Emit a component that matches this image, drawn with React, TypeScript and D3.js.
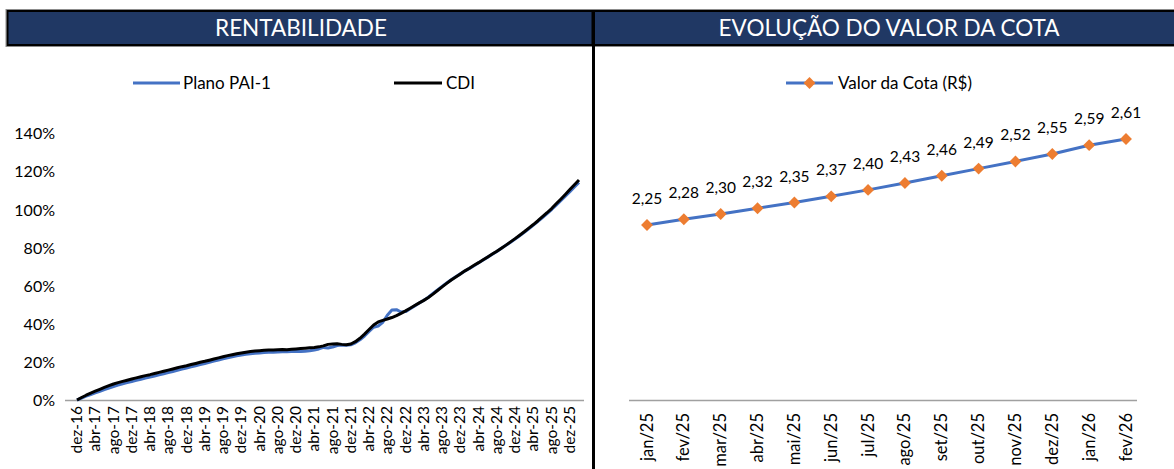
import React from "react";
import * as d3 from "d3";

const MONTHS_PT = ["jan", "fev", "mar", "abr", "mai", "jun", "jul", "ago", "set", "out", "nov", "dez"];

// Left chart: monthly categories dez-16 .. fev-26
const rentCategories: string[] = d3.range(111).map((i) => {
  const k = 11 + i;
  return `${MONTHS_PT[k % 12]}-${16 + Math.floor(k / 12)}`;
});

// Cumulative return (%) – CDI
const cdiValues = [
  0, 1.3, 2.5, 3.6, 4.6, 5.6, 6.6, 7.5, 8.4, 9.1, 9.8, 10.4, 11.0,
  11.6, 12.2, 12.8, 13.3, 13.9, 14.5, 15.1, 15.7, 16.3, 16.9, 17.5, 18.0,
  18.6, 19.2, 19.8, 20.3, 20.9, 21.5, 22.1, 22.7, 23.3, 23.8, 24.3, 24.7,
  25.1, 25.4, 25.7, 25.9, 26.1, 26.2, 26.3, 26.4, 26.5, 26.4, 26.6, 26.8,
  27.0, 27.2, 27.4, 27.6, 27.9, 28.4, 29.2, 29.4, 29.5, 29.2, 29.0, 29.4,
  30.6, 32.4, 34.6, 37.0, 39.4, 41.0, 41.8, 42.5, 43.3, 44.3, 45.5, 46.8,
  48.2, 49.6, 51.0, 52.3, 53.8, 55.6, 57.5, 59.4, 61.2, 63.0, 64.6, 66.2,
  67.8, 69.2, 70.7, 72.1, 73.6, 75.1, 76.6, 78.1, 79.7, 81.3, 83.0, 84.7,
  86.5, 88.3, 90.2, 92.1, 94.1, 96.2, 98.3, 100.5, 103.0, 105.4, 107.9, 110.5,
  113.0, 115.5,
];

// Cumulative return (%) – Plano PAI-1
const planoValues = [
  0, 1.0, 2.0, 2.9, 3.8, 4.6, 5.5, 6.3, 7.1, 7.8, 8.5, 9.1, 9.7,
  10.3, 10.9, 11.5, 12.0, 12.6, 13.2, 13.8, 14.4, 15.0, 15.6, 16.2, 16.8,
  17.4, 18.0, 18.6, 19.2, 19.8, 20.4, 21.0, 21.6, 22.2, 22.7, 23.2, 23.6,
  24.0, 24.3, 24.5, 24.7, 24.9, 25.0, 25.1, 25.2, 25.3, 25.3, 25.4, 25.5,
  25.5, 25.6, 25.8, 26.2, 26.8, 27.6, 27.3, 27.8, 28.6, 28.9, 28.8, 29.0,
  30.0, 31.6, 33.6, 36.0, 38.2, 38.8, 40.8, 44.5, 47.2, 47.4, 46.2, 46.4,
  47.9, 49.4, 50.9, 52.4, 54.0, 55.9, 57.8, 59.6, 61.4, 63.1, 64.7, 66.2,
  67.7, 69.1, 70.5, 72.0, 73.5, 75.0, 76.5, 78.0, 79.6, 81.2, 82.8, 84.5,
  86.2, 88.0, 89.9, 91.8, 93.8, 95.8, 97.9, 100.0, 102.3, 104.6, 107.0, 109.4,
  111.8, 114.2,
];

const rentYTicks = [0, 20, 40, 60, 80, 100, 120, 140];

// Right chart
const cotaCategories = [
  "jan/25", "fev/25", "mar/25", "abr/25", "mai/25", "jun/25", "jul/25",
  "ago/25", "set/25", "out/25", "nov/25", "dez/25", "jan/26", "fev/26",
];
const cotaValues = [
  2.252, 2.276, 2.298, 2.322, 2.346, 2.372, 2.399, 2.428, 2.458, 2.488,
  2.518, 2.549, 2.586, 2.612,
];

const FONT = "Lato, 'Open Sans', sans-serif";
const NAVY = "#203864";
const BLUE = "#4472C4";
const ORANGE = "#ED7D31";
const AXIS_GRAY = "#A0A0A0";

export default function App() {
  // left scales
  const xL = d3.scalePoint<string>().domain(rentCategories).range([77, 579]);
  const yL = d3.scaleLinear().domain([0, 140]).range([400, 133.3]);
  const lineL = d3
    .line<number>()
    .x((_, i) => xL(rentCategories[i]) as number)
    .y((d) => yL(d));

  // right scales
  const xR = d3.scalePoint<string>().domain(cotaCategories).range([647, 1126]);
  const yR = d3.scaleLinear().domain([1.52, 2.775]).range([400, 100]);
  const lineR = d3
    .line<number>()
    .x((_, i) => xR(cotaCategories[i]) as number)
    .y((d) => yR(d));

  const fmt = (v: number) => v.toFixed(2).replace(".", ",");

  return (
    <svg
      width={1174}
      height={469}
      style={{ position: "absolute", left: 0, top: 0, background: "#fff" }}
      fontFamily={FONT}
    >
      {/* Headers */}
      <rect x={6} y={9.5} width={1170} height={37} fill="none" stroke="#8c8c8c" strokeWidth={1} />
      <rect x={7.5} y={11} width={585} height={34} fill={NAVY} stroke="#000" strokeWidth={2} />
      <rect x={594} y={11} width={585} height={34} fill={NAVY} stroke="#000" strokeWidth={2} />
      <text x={301} y={36} textAnchor="middle" fill="#fff" fontSize={22.5}>
        RENTABILIDADE
      </text>
      <text x={889} y={36} textAnchor="middle" fill="#fff" fontSize={22.5}>
        EVOLUÇÃO DO VALOR DA COTA
      </text>
      <line x1={593.5} x2={593.5} y1={45} y2={469} stroke="#000" strokeWidth={3} />

      {/* Left legend */}
      <line x1={133} x2={180} y1={83} y2={83} stroke={BLUE} strokeWidth={3} />
      <text x={183} y={89} fontSize={17} fill="#000">
        Plano PAI-1
      </text>
      <line x1={394} x2={442} y1={83} y2={83} stroke="#000" strokeWidth={3} />
      <text x={446} y={89} fontSize={17} fill="#000">
        CDI
      </text>

      {/* Left y axis labels */}
      {rentYTicks.map((t) => (
        <text key={t} x={55} y={yL(t) + 6} textAnchor="end" fontSize={16} fill="#000">
          {t}%
        </text>
      ))}

      {/* Left x axis */}
      <line x1={65} x2={584} y1={400.5} y2={400.5} stroke={AXIS_GRAY} strokeWidth={1.5} />
      {rentCategories.map((c, i) =>
        i % 4 === 0 ? (
          <text
            key={c}
            transform={`translate(${(xL(c) as number) + 5},${406}) rotate(-90)`}
            textAnchor="end"
            fontSize={15.5}
            fill="#000"
          >
            {c}
          </text>
        ) : null
      )}

      {/* Left lines */}
      <path d={lineL(planoValues) || ""} fill="none" stroke={BLUE} strokeWidth={3} strokeLinejoin="round" />
      <path d={lineL(cdiValues) || ""} fill="none" stroke="#000" strokeWidth={3} strokeLinejoin="round" />

      {/* Right legend */}
      <line x1={786} x2={833} y1={83} y2={83} stroke={BLUE} strokeWidth={3} />
      <path d={d3.symbol(d3.symbolDiamond2, 90)() || ""} transform="translate(809.5,83)" fill={ORANGE} />
      <text x={838} y={89} fontSize={17} fill="#000">
        Valor da Cota (R$)
      </text>

      {/* Right x axis */}
      <line x1={629} x2={1137} y1={400.5} y2={400.5} stroke={AXIS_GRAY} strokeWidth={1.5} />
      {cotaCategories.map((c) => (
        <text
          key={c}
          transform={`translate(${(xR(c) as number) + 5.5},${413}) rotate(-90)`}
          textAnchor="end"
          fontSize={16.5}
          fill="#000"
        >
          {c}
        </text>
      ))}

      {/* Right line + markers + labels */}
      <path d={lineR(cotaValues) || ""} fill="none" stroke={BLUE} strokeWidth={3} strokeLinejoin="round" />
      {cotaValues.map((v, i) => {
        const x = xR(cotaCategories[i]) as number;
        const y = yR(v);
        return (
          <g key={i}>
            <path d={d3.symbol(d3.symbolDiamond2, 90)() || ""} transform={`translate(${x},${y})`} fill={ORANGE} />
            <text x={x} y={y - 21} textAnchor="middle" fontSize={15.5} fill="#000">
              {fmt(v)}
            </text>
          </g>
        );
      })}
    </svg>
  );
}
